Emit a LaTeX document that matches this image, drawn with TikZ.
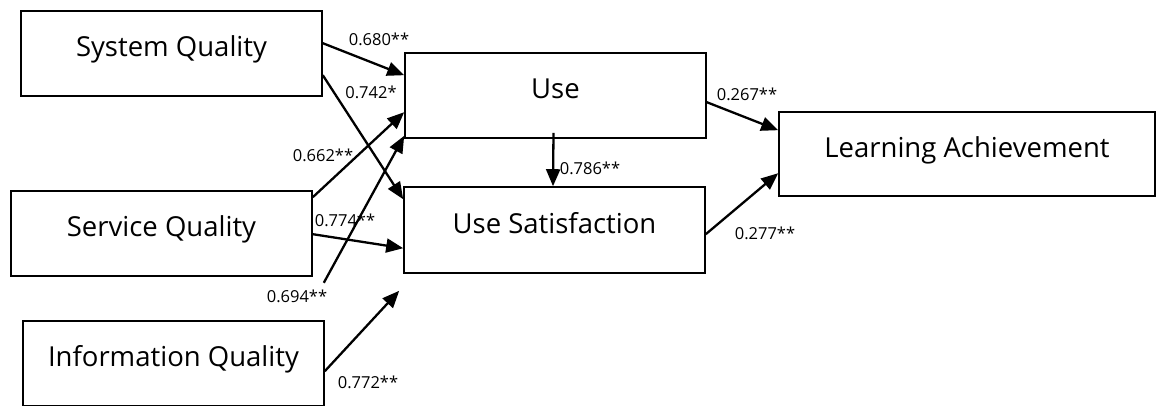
\documentclass[tikz,border=0pt]{standalone}
\usepackage{fontspec}
\setmainfont{Open Sans}
\usetikzlibrary{arrows.meta}

\tikzset{
  box/.style={draw=black, line width=1.6pt, minimum width=301pt, minimum height=85pt,
    inner sep=0pt, font=\fontsize{27.5}{30}\selectfont, text height=0.72em, text depth=0.06em},
  path/.style={line width=2.3pt, -{Triangle[length=17pt,width=14pt]}},
  coef/.style={inner sep=0pt, font=\fontsize{16.5}{18}\selectfont}
}

\begin{document}
\begin{tikzpicture}[x=1pt, y=-1pt]
  \useasboundingbox (0,0) rectangle (1160,406);

  % constructs
  \node[box] (sq)  at (171.5,53.5)  {System Quality};
  \node[box] (svq) at (161.5,233.5) {Service Quality};
  \node[box] (iq)  at (173.5,363.5) {Information Quality};
  \node[box] (use) at (555.5,95.5)  {Use};
  \node[box, minimum height=86pt] (us) at (554.5,230) {Use Satisfaction};
  \node[box, minimum width=376pt, minimum height=84pt] (la) at (967,154) {Learning Achievement};

  % loose ends of the two paths that do not meet a box
  \coordinate (iqtip) at ([xshift=-4pt,yshift=-17pt]us.south west);
  \coordinate (svqtail) at ([xshift=11pt,yshift=-6pt]svq.south east);

  % structural paths
  \draw[path] ([yshift=-33pt]sq.north east) -- ([yshift=-23pt]use.north west);
  \draw[path] ([yshift=-65pt]sq.north east) -- ([yshift=-13pt]us.north west);
  \draw[path] ([yshift=-7pt]svq.north east) -- ([yshift=-60pt]use.north west);
  \draw[path] (svqtail) -- ([yshift=3pt]use.south west);
  \draw[path] ([yshift=-44pt]svq.north east) -- ([yshift=-62pt]us.north west);
  \draw[path] ([yshift=-51pt]iq.north east) -- (iqtip);
  \draw[path] ([xshift=-2pt,yshift=6pt]use.south) -- ([xshift=-1.5pt]us.north);
  \draw[path] ([yshift=-50pt]use.north east) -- ([yshift=-19pt]la.north west);
  \draw[path] ([yshift=-48pt]us.north east) -- ([yshift=-62pt]la.north west);

  % path coefficients
  \node[coef] (c1) at (379,39)  {0.680**};
  \node[coef] (c2) at (371,92)  {0.742*};
  \node[coef] (c3) at (323,155) {0.662**};
  \node[coef] (c4) at (345,220) {0.774**};
  \node[coef] (c5) at (297,296) {0.694**};
  \node[coef] (c6) at (368,382) {0.772**};
  \node[coef] (c7) at (590,168) {0.786**};
  \node[coef] (c8) at (747,94)  {0.267**};
  \node[coef] (c9) at (765,233) {0.277**};
\end{tikzpicture}
\end{document}
